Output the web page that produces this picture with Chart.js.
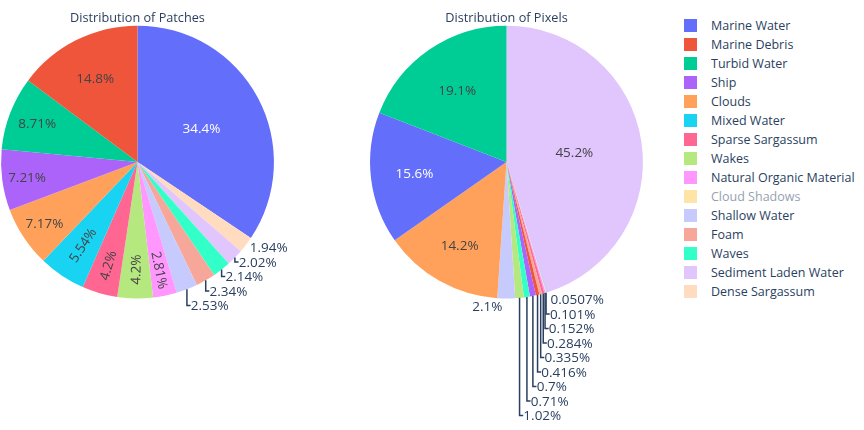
<!DOCTYPE html>
<html>
<head>
<meta charset="utf-8">
<title>Distribution of Patches and Pixels</title>
<script src="https://cdn.jsdelivr.net/npm/chart.js@4.4.1/dist/chart.umd.min.js"></script>
<style>
  body { margin: 0; background: #fff; }
  #page { position: relative; width: 864px; height: 430px; overflow: hidden; font-family: "Open Sans", sans-serif; }
  canvas { position: absolute; top: 0; }
  #patches { left: 0; }
  #pixels { left: 360px; }
  #legend { position: absolute; left: 684px; top: 0; }
  .item { position: absolute; left: 0; height: 19px; line-height: 19px; white-space: nowrap; font-size: 12.5px; color: #2a3f5f; }
  .item .box { position: absolute; left: 0; top: 3.2px; width: 12.7px; height: 12.7px; }
  .item .txt { position: absolute; left: 27px; top: 0; }
  .item.off { opacity: 0.5; }
</style>
</head>
<body>
<div id="page">
  <canvas id="patches" width="360" height="430"></canvas>
  <canvas id="pixels" width="320" height="430"></canvas>
  <div id="legend"></div>
</div>
<script>
// classes, in legend order
const categories = ['Marine Water', 'Marine Debris', 'Turbid Water', 'Ship', 'Clouds', 'Mixed Water',
  'Sparse Sargassum', 'Wakes', 'Natural Organic Material', 'Cloud Shadows', 'Shallow Water', 'Foam',
  'Waves', 'Sediment Laden Water', 'Dense Sargassum'];

const colors = ['#636efa', '#ef553b', '#00cc96', '#ab63fa', '#ffa15a', '#19d3f3', '#ff6692', '#b6e880',
  '#ff97ff', '#fecb52', '#c6cafd', '#f7a799', '#33ffc9', '#e0c6fd', '#ffdbc0'];

// share in percent; null = Cloud Shadows, switched off in the legend
const patchShare = [34.4, 14.8, 8.71, 7.21, 7.17, 5.54, 4.2, 4.2, 2.81, null, 2.53, 2.34, 2.14, 2.02, 1.94];
const pixelShare = [15.6, 0.416, 19.1, 0.7, 14.2, 0.0507, 0.284, 1.02, 0.152, null, 2.1, 0.335, 0.71, 45.2, 0.101];

const PIE_FONT = 13.5;
const BOX_H = 15.2;     // text box height used when fitting labels in a slice
const STACK_H = 14.5;   // spacing of stacked outside labels
const TEXT_PAD = 3;
const OUT_COLOR = '#2a3f5f';

// biggest slice first from 12 o'clock, then the rest smallest to biggest (clockwise)
function sliceOrder(values) {
  const idx = values.map((v, i) => i).filter(i => values[i] != null)
    .sort((a, b) => values[b] - values[a]);
  return [idx[0]].concat(idx.slice(1).reverse());
}

function isDark(hex) {
  const r = parseInt(hex.substr(1, 2), 16), g = parseInt(hex.substr(3, 2), 16), b = parseInt(hex.substr(5, 2), 16);
  return (r * 299 + g * 587 + b * 114) / 1000 < 128;
}

// text centred on the digits, not on the em box
function centerText(ctx, text, x, y) {
  ctx.fillText(text, x, y + PIE_FONT * 0.36);
}

function drawInside(ctx, text, x, y, rot, fill) {
  ctx.save();
  ctx.translate(x, y);
  ctx.rotate(rot);
  ctx.fillStyle = isDark(fill) ? '#ffffff' : '#444444';
  centerText(ctx, text, 0, 0);
  ctx.restore();
}

const sliceLabels = {
  id: 'sliceLabels',
  afterDatasetsDraw(chart) {
    const ctx = chart.ctx;
    const values = chart.data.datasets[0].data;
    const fills = chart.data.datasets[0].backgroundColor;
    const arcs = chart.getDatasetMeta(0).data;
    const outside = [];

    ctx.save();
    ctx.font = PIE_FONT + 'px "Open Sans"';
    ctx.textAlign = 'center';
    ctx.textBaseline = 'alphabetic';

    arcs.forEach((arc, i) => {
      const p = arc.getProps(['x', 'y', 'startAngle', 'endAngle', 'outerRadius'], true);
      const text = values[i] + '%';
      const w = ctx.measureText(text).width;
      const half = (p.endAngle - p.startAngle) / 2;
      const mid = p.startAngle + half;
      const r = p.outerRadius;
      const cos = Math.cos(mid), sin = Math.sin(mid);

      // horizontal, inside the circle inscribed in the slice
      const ins = Math.min(1 / (1 + 1 / Math.sin(half)), 0.5);
      if (ins * r * 2 / Math.hypot(w, BOX_H) >= 1) {
        drawInside(ctx, text, p.x + cos * r * (1 - ins), p.y + sin * r * (1 - ins), 0, fills[i]);
        return;
      }

      // rotated along the radius
      const a = w / BOX_H;
      const q = a + 1 / (2 * Math.tan(half));
      const s = (r - 2 * TEXT_PAD) * Math.min(1 / (Math.sqrt(q * q + 0.5) + q), 1 / (Math.sqrt(a * a + 0.5) + a));
      if (s * 2 / BOX_H >= 1) {
        const rc = s / Math.tan(half) + a * s;
        let rot = mid;
        while (rot > Math.PI / 2) rot -= Math.PI;
        while (rot <= -Math.PI / 2) rot += Math.PI;
        drawInside(ctx, text, p.x + cos * rc, p.y + sin * rc, rot, fills[i]);
        return;
      }

      // does not fit: outside
      const px = cos * r, py = sin * r;
      const dx = (px < 0 ? -1 : 1) * w / 2;
      const dy = (py < 0 ? -1 : 1) * BOX_H / 2;
      outside.push({
        text: text, cx: p.x, cy: p.y, px: px, py: py,
        x: px + dx + Math.abs(dy) * Math.sign(dx) / 2,
        y: py + dy / (1 + px * px / (py * py))
      });
    });

    // push overlapping outside labels apart, per quadrant
    const groups = {};
    outside.forEach(o => {
      const k = (o.px < 0 ? 'l' : 'r') + (o.py < 0 ? 't' : 'b');
      (groups[k] = groups[k] || []).push(o);
    });
    Object.keys(groups).forEach(k => {
      const g = groups[k];
      const down = k[1] === 'b';
      g.sort((m, n) => down ? m.y - n.y : n.y - m.y);
      g.forEach((o, j) => {
        o.ny = o.y;
        if (j > 0) {
          const prev = g[j - 1].ny;
          o.ny = down ? Math.max(o.y, prev + STACK_H) : Math.min(o.y, prev - STACK_H);
        }
      });
    });

    ctx.fillStyle = OUT_COLOR;
    ctx.strokeStyle = OUT_COLOR;
    ctx.lineWidth = 1.5;
    outside.forEach(o => {
      if (Math.abs(o.ny - o.y) > 0.01) {
        const side = o.px < 0 ? -1 : 1;
        ctx.beginPath();
        ctx.moveTo(o.cx + o.px, o.cy + o.py);
        ctx.lineTo(o.cx + o.px, o.cy + o.ny);
        ctx.lineTo(o.cx + o.px + side * STACK_H / 4, o.cy + o.ny);
        ctx.stroke();
      }
      centerText(ctx, o.text, o.cx + o.x, o.cy + o.ny);
    });
    ctx.restore();
  }
};

function makePie(canvasId, title, values, padLeft, padRight) {
  const order = sliceOrder(values);
  return new Chart(document.getElementById(canvasId), {
    type: 'pie',
    data: {
      labels: order.map(i => categories[i]),
      datasets: [{
        data: order.map(i => values[i]),
        backgroundColor: order.map(i => colors[i]),
        borderWidth: 0,
        hoverOffset: 0
      }]
    },
    options: {
      responsive: false,
      animation: false,
      layout: { padding: { left: padLeft, right: padRight, top: 0, bottom: 131.5 } },
      plugins: {
        legend: { display: false },
        tooltip: { enabled: false },
        title: {
          display: true,
          text: title,
          color: OUT_COLOR,
          font: { family: '"Open Sans"', size: 12.7, weight: 'normal' },
          padding: { top: 10.4, bottom: 0 }
        }
      }
    },
    plugins: [sliceLabels]
  });
}

makePie('patches', 'Distribution of Patches', patchShare, 1, 86);
makePie('pixels', 'Distribution of Pixels', pixelShare, 10, 37);

// legend shared by both pies
const legend = document.getElementById('legend');
categories.forEach((name, i) => {
  const row = document.createElement('div');
  row.className = 'item' + (patchShare[i] == null ? ' off' : '');
  row.style.top = (16.3 + i * 19) + 'px';
  row.innerHTML = '<span class="box" style="background:' + colors[i] + '"></span><span class="txt">' + name + '</span>';
  legend.appendChild(row);
});
</script>
</body>
</html>
